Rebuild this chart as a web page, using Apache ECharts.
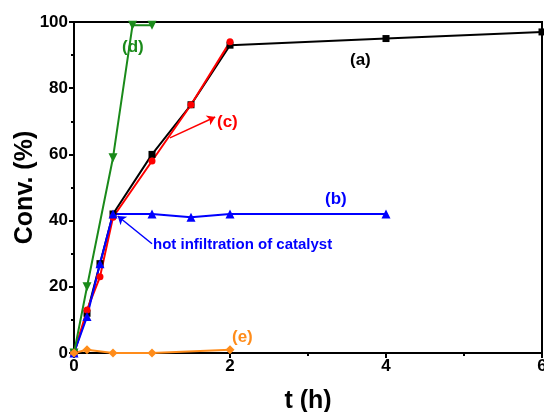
<!DOCTYPE html>
<html>
<head>
<meta charset="utf-8">
<script src="https://cdn.jsdelivr.net/npm/echarts@6/dist/echarts.min.js"></script>
<style>
html,body{margin:0;padding:0;background:#fff;}
#main{width:544px;height:412px;}
</style>
</head>
<body>
<div id="main"></div>
<script>
// data
var tA = [0, 0.167, 0.333, 0.5, 1, 1.5, 2, 4, 6];
var convA = [0, 12, 27, 42, 60, 75, 93, 95, 97];
var tB = [0, 0.167, 0.333, 0.5, 1, 1.5, 2, 4];
var convB = [0, 11, 27, 42, 42, 41, 42, 42];
var tC = [0, 0.167, 0.333, 0.5, 1, 1.5, 2];
var convC = [0, 13, 23, 41, 58, 75, 94];
var tD = [0, 0.167, 0.5, 0.75, 1];
var convD = [0, 20, 59, 99, 99];
var tE = [0, 0.167, 0.5, 1, 2];
var convE = [0, 1, 0, 0, 1];

function pairs(xs, ys) {
  return xs.map(function (x, i) { return [x, ys[i]]; });
}

var chart = echarts.init(document.getElementById('main'));
var bold = {fontFamily: 'Liberation Sans, Arial', fontWeight: 'bold'};

chart.setOption({
  animation: false,
  grid: {left: 74, right: 2, top: 22, bottom: 59, containLabel: false, outerBoundsMode: 'none',
         show: true, borderColor: '#000', borderWidth: 2},
  xAxis: {
    type: 'value', min: 0, max: 6, interval: 2,
    name: 't (h)', nameLocation: 'middle', nameGap: 36, nameMoveOverlap: false,
    nameTextStyle: {color: '#000', fontSize: 25, fontFamily: 'Liberation Sans, Arial', fontWeight: 'bold'},
    axisLine: {lineStyle: {color: '#000', width: 2}},
    axisTick: {length: 5, lineStyle: {width: 2}},
    minorTick: {show: true, splitNumber: 2, length: 3, lineStyle: {color: '#000', width: 2}},
    axisLabel: {color: '#000', fontSize: 17, margin: 5, fontFamily: 'Liberation Sans, Arial', fontWeight: 'bold'},
    splitLine: {show: false}
  },
  yAxis: {
    type: 'value', min: 0, max: 100, interval: 20,
    name: 'Conv. (%)', nameLocation: 'middle', nameGap: 36, nameMoveOverlap: false,
    nameTextStyle: {color: '#000', fontSize: 25, fontFamily: 'Liberation Sans, Arial', fontWeight: 'bold'},
    axisLine: {show: true, lineStyle: {color: '#000', width: 2}},
    axisTick: {show: true, length: 5, lineStyle: {width: 2}},
    minorTick: {show: true, splitNumber: 2, length: 3, lineStyle: {color: '#000', width: 2}},
    axisLabel: {color: '#000', fontSize: 17, margin: 6, fontFamily: 'Liberation Sans, Arial', fontWeight: 'bold'},
    splitLine: {show: false}
  },
  series: [
    {name: '(a)', type: 'line', data: pairs(tA, convA), color: '#000000',
     symbol: 'rect', symbolSize: 7, lineStyle: {width: 2}},
    {name: '(c)', type: 'line', data: pairs(tC, convC), color: '#ff0000',
     symbol: 'circle', symbolSize: 7, lineStyle: {width: 2},
     markLine: {silent: true, symbol: ['none', 'arrow'], symbolSize: 8,
       lineStyle: {color: '#ff0000', width: 1.5, type: 'solid'}, label: {show: false},
       data: [[{coord: [1.23, 65]}, {coord: [1.81, 71.3]}]]}},
    {name: '(b)', type: 'line', data: pairs(tB, convB), color: '#0000ff',
     symbol: 'triangle', symbolSize: 9, lineStyle: {width: 2},
     markLine: {silent: true, symbol: ['none', 'arrow'], symbolSize: 8,
       lineStyle: {color: '#0000ff', width: 1.5, type: 'solid'}, label: {show: false},
       data: [[{coord: [1.0, 33]}, {coord: [0.56, 41.4]}]]}},
    {name: '(d)', type: 'line', data: pairs(tD, convD), color: '#1a8a1a',
     symbol: 'triangle', symbolRotate: 180, symbolSize: 9, lineStyle: {width: 2}},
    {name: '(e)', type: 'line', data: pairs(tE, convE), color: '#ff8c1a',
     symbol: 'diamond', symbolSize: 9, lineStyle: {width: 2}}
  ],
  graphic: [
    {type: 'text', left: 350, top: 52, style: Object.assign({text: '(a)', fill: '#000', fontSize: 17}, bold)},
    {type: 'text', left: 325, top: 191, style: Object.assign({text: '(b)', fill: '#0000ff', fontSize: 17}, bold)},
    {type: 'text', left: 217, top: 114, style: Object.assign({text: '(c)', fill: '#ff0000', fontSize: 17}, bold)},
    {type: 'text', left: 122, top: 39, style: Object.assign({text: '(d)', fill: '#1a8a1a', fontSize: 17}, bold)},
    {type: 'text', left: 232, top: 329, style: Object.assign({text: '(e)', fill: '#ff8c1a', fontSize: 17}, bold)},
    {type: 'text', left: 153, top: 237, style: Object.assign({text: 'hot infiltration of catalyst', fill: '#0000ff', fontSize: 15}, bold)}
  ]
});
</script>
</body>
</html>
